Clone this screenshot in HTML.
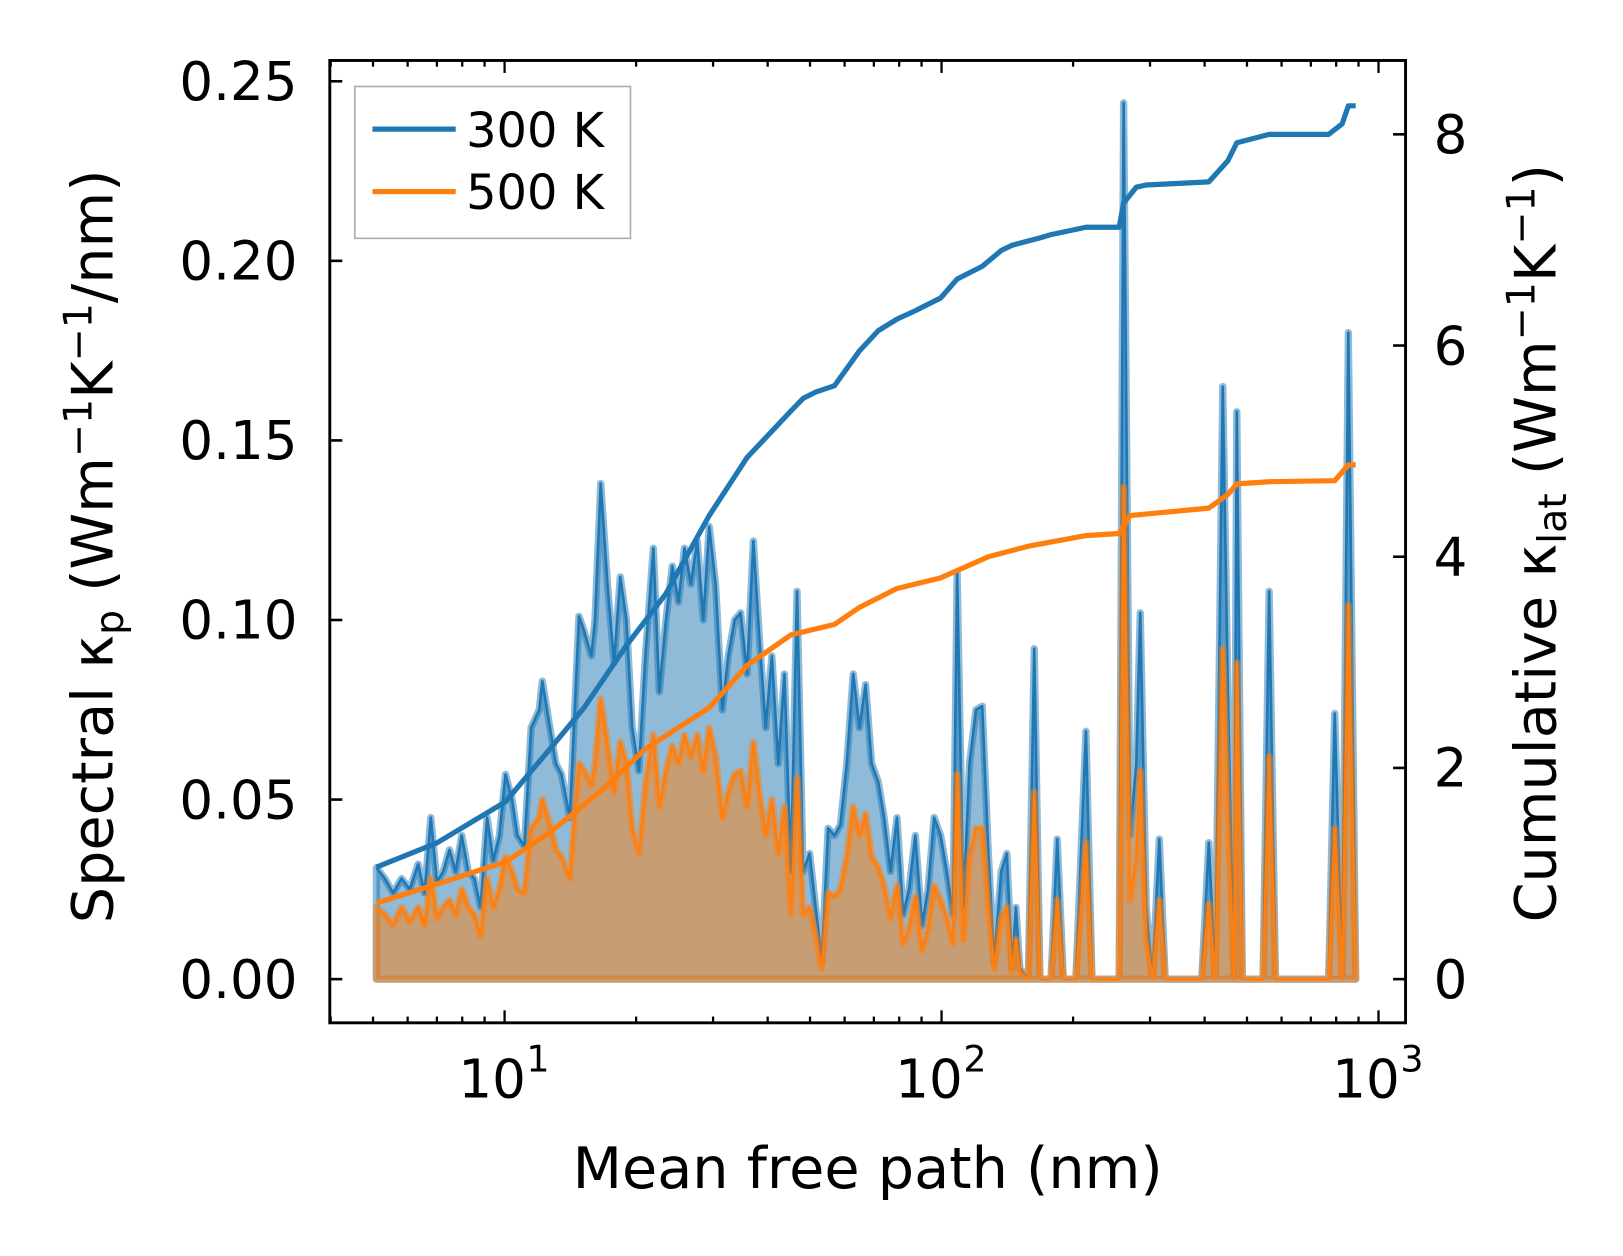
<!DOCTYPE html>
<html><head><meta charset="utf-8"><style>
html,body{margin:0;padding:0;background:#fff;}
svg{display:block;font-family:"DejaVu Sans","Liberation Sans",sans-serif;}
</style></head><body>
<svg id="chart" width="1623" height="1256" viewBox="0 0 1560 1207" xmlns="http://www.w3.org/2000/svg">
<g id="plot"></g>
<g id="axes"></g>
</svg>
<script>
const mfp = [5.09,5.32,5.56,5.81,6.07,6.34,6.56,6.78,7.00,7.24,7.48,7.73,7.98,8.26,8.53,8.81,9.12,9.42,9.73,10.05,10.4,10.7,11.1,11.5,12.0,12.2,12.7,13.1,13.5,14.1,14.8,15.2,15.8,16.1,16.6,17.2,17.8,18.4,19.0,19.6,20.3,21.0,21.9,22.6,23.4,24.2,25.0,25.8,26.7,27.6,28.5,29.4,30.4,31.5,32.5,33.6,34.7,35.9,37.1,38.3,39.6,40.9,42.3,43.7,45.2,46.7,48.2,49.9,51.5,53.2,55.0,56.9,58.7,60.7,62.8,64.9,67.0,69.2,71.6,73.9,76.4,79.1,81.7,84.3,87.1,90.2,93.1,96.2,99.5,102.8,106.2,108.6,112.2,115.9,119.9,123.9,128,132,137,141,145,148,151,158,163,168,178,184,190,203,214,221,247,255,261,270,279,285,294,304,315,325,394,409,423,440,452,467,474,488,544,562,581,769,794,826,853,887];
const spec300 = [0.031,0.028,0.024,0.028,0.025,0.032,0.024,0.045,0.027,0.030,0.036,0.030,0.040,0.030,0.028,0.020,0.045,0.033,0.040,0.057,0.050,0.040,0.037,0.070,0.075,0.083,0.070,0.060,0.057,0.045,0.101,0.097,0.090,0.100,0.138,0.110,0.088,0.112,0.100,0.070,0.058,0.090,0.120,0.080,0.100,0.115,0.105,0.120,0.110,0.122,0.100,0.126,0.110,0.075,0.090,0.100,0.102,0.085,0.122,0.095,0.070,0.090,0.060,0.085,0.030,0.108,0.030,0.035,0.020,0.005,0.042,0.040,0.043,0.060,0.085,0.070,0.082,0.060,0.055,0.045,0.030,0.045,0.018,0.025,0.040,0.015,0.025,0.045,0.040,0.030,0.018,0.113,0.020,0.060,0.075,0.076,0.035,0.005,0.030,0.035,0.003,0.020,0.003,0,0.092,0,0,0.039,0,0,0.069,0,0,0,0.244,0.040,0.060,0.102,0.020,0,0.039,0,0,0.038,0,0.165,0.080,0,0.158,0,0,0.108,0,0,0.074,0,0.180,0];
const spec500 = [0.020,0.018,0.015,0.020,0.016,0.020,0.015,0.028,0.017,0.020,0.022,0.018,0.025,0.020,0.018,0.012,0.028,0.020,0.025,0.034,0.030,0.025,0.024,0.042,0.045,0.050,0.043,0.036,0.034,0.028,0.060,0.058,0.054,0.060,0.078,0.065,0.052,0.066,0.060,0.042,0.035,0.054,0.068,0.048,0.058,0.065,0.060,0.068,0.062,0.068,0.058,0.070,0.062,0.045,0.052,0.057,0.058,0.048,0.066,0.052,0.040,0.050,0.035,0.048,0.018,0.056,0.018,0.020,0.012,0.003,0.024,0.023,0.025,0.034,0.048,0.040,0.046,0.034,0.031,0.026,0.017,0.026,0.010,0.014,0.023,0.008,0.014,0.026,0.022,0.017,0.010,0.057,0.011,0.034,0.042,0.042,0.020,0.003,0.017,0.020,0.002,0.011,0.002,0,0.052,0,0,0.022,0,0,0.038,0,0,0,0.137,0.022,0.034,0.058,0.011,0,0.022,0,0,0.021,0,0.092,0.045,0,0.088,0,0,0.062,0,0,0.042,0,0.104,0];
const cumMfp = [5.09,7.0,10.05,12.7,15.2,19.0,23.4,29.4,35.9,45.2,48.2,51.5,56.9,64.9,71.6,79.1,87.1,99.5,108.6,123.9,137,145,168,178,214,255,261,279,294,409,452,474,562,769,826,853,887];
const cum300 = [1.06,1.29,1.68,2.18,2.57,3.16,3.65,4.39,4.94,5.38,5.50,5.56,5.62,5.95,6.14,6.25,6.33,6.45,6.63,6.75,6.90,6.95,7.02,7.05,7.12,7.12,7.35,7.50,7.52,7.55,7.75,7.92,8.0,8.0,8.1,8.27,8.27];
const cum500Mfp = [5.09,7.0,10.05,12.7,16.6,21.0,29.4,35.9,45.2,56.9,64.9,79.1,99.5,128,158,214,255,270,409,452,474,562,794,853,887];
const cum500 = [0.72,0.90,1.11,1.39,1.78,2.18,2.57,2.97,3.26,3.36,3.52,3.70,3.80,4.0,4.10,4.20,4.22,4.39,4.46,4.59,4.69,4.71,4.72,4.87,4.87];
const leftTicks = [0,0.05,0.10,0.15,0.20,0.25];
const leftLabels = ["0.00","0.05","0.10","0.15","0.20","0.25"];
const rightTicks = [0,2,4,6,8];
const xMajor = [1,2,3];
</script>
<script>
const NS="http://www.w3.org/2000/svg";
const L=317,R=1351,T=58,B=983;
const sx=v=>485+420*(Math.log10(v)-1);
const syL=v=>941-v*(941-78)/0.25;
const syR=v=>941-v*(941-129)/8;
function mk(tag,attrs,parent){const e=document.createElementNS(NS,tag);for(const k in attrs)e.setAttribute(k,attrs[k]);parent.appendChild(e);return e;}
const plot=document.getElementById('plot'),axes=document.getElementById('axes');
const b300='#1f77b4',o500='#ff7f0e';
function area(vals,color,nm){
  let d='M'+sx(mfp[0])+','+syL(0);
  mfp.forEach((m,i)=>{d+=' L'+sx(m).toFixed(1)+','+syL(vals[i]).toFixed(1);});
  d+=' L'+sx(mfp[mfp.length-1])+','+syL(0)+' Z';
  const a=mk('path',{d:d,fill:color,'fill-opacity':0.5,stroke:color,'stroke-opacity':0.5,'stroke-width':7,'stroke-linejoin':'round'},plot);
  
  
  let p=mfp.map((m,i)=>sx(m).toFixed(1)+','+syL(vals[i]).toFixed(1)).join(' ');
  const l=mk('polyline',{points:p,fill:'none',stroke:color,'stroke-width':2.5,'stroke-linejoin':'round'},plot);
  
  
}
area(spec300,b300,'spectral-300k');
area(spec500,o500,'spectral-500k');
function cum(xs,vals,color,nm){
  const n=Math.min(vals.length,xs.length);
  let p=[];for(let i=0;i<n;i++)p.push(sx(xs[i]).toFixed(1)+','+syR(vals[i]).toFixed(1));
  const l=mk('polyline',{points:p.join(' '),fill:'none',stroke:color,'stroke-width':5,'stroke-linejoin':'round'},plot);
  
  
}
cum(cumMfp,cum300,b300,'cumulative-300k-line');
cum(cum500Mfp,cum500,o500,'cumulative-500k-line');
const fr=mk('rect',{x:L,y:T,width:R-L,height:B-T,fill:'none',stroke:'#000','stroke-width':2.8},axes);


const tt={fill:'#000','font-size':51};
leftTicks.forEach((v,i)=>{
  const y=syL(v);
  mk('line',{x1:L,x2:L+12,y1:y,y2:y,stroke:'#000','stroke-width':2.5},axes);
  const t=mk('text',Object.assign({x:L-31,y:y+18,'text-anchor':'end'},tt),axes);
  t.textContent=leftLabels[i];
  
  
});
rightTicks.forEach(v=>{
  const y=syR(v);
  mk('line',{x1:R,x2:R-12,y1:y,y2:y,stroke:'#000','stroke-width':2.5},axes);
  const t=mk('text',Object.assign({x:R+27,y:y+18},tt),axes);
  t.textContent=String(v);
  
  
});
for(let e=0;e<=3;e++){for(let k=1;k<=9;k++){
  const v=k*Math.pow(10,e);const x=sx(v);if(x<L||x>R)continue;
  const len=k===1?12:6;
  mk('line',{x1:x,x2:x,y1:B,y2:B-len,stroke:'#000','stroke-width':2.2},axes);
  mk('line',{x1:x,x2:x,y1:T,y2:T+len,stroke:'#000','stroke-width':2.2},axes);
}}
xMajor.forEach(e=>{
  const x=sx(Math.pow(10,e));
  const t=mk('text',Object.assign({x:x-12,y:B+72,'text-anchor':'middle'},tt),axes);
  t.textContent='10';
  
  
  const s=mk('text',{x:x+21,y:B+47,'font-size':35,fill:'#000'},axes);
  s.textContent=String(e);
  
  
});
</script>
<script>
(function(){
const svg=document.getElementById('chart');
svg.insertAdjacentHTML('beforeend',`
<text x="834" y="1142" text-anchor="middle" font-size="55" fill="#000">Mean free path (nm)</text>
<text transform="translate(108,525) rotate(-90)" text-anchor="middle" font-size="55" fill="#000">Spectral κ<tspan font-size="38" dy="10">p</tspan><tspan dy="-10"> (Wm</tspan><tspan font-size="38" dy="-20">−1</tspan><tspan dy="20">K</tspan><tspan font-size="38" dy="-20">−1</tspan><tspan dy="20">/nm)</tspan></text>
<text transform="translate(1495,522) rotate(-90)" text-anchor="middle" font-size="55" fill="#000">Cumulative κ<tspan font-size="38" dy="10">lat</tspan><tspan dy="-10"> (Wm</tspan><tspan font-size="38" dy="-20">−1</tspan><tspan dy="20">K</tspan><tspan font-size="38" dy="-20">−1</tspan><tspan dy="20">)</tspan></text>
<g>
<rect x="341" y="83" width="265" height="146" fill="#fff" fill-opacity="0.8" stroke="#aaa" stroke-width="1.5"/>
<line x1="358" x2="438" y1="124" y2="124" stroke="#1f77b4" stroke-width="5"/>
<text x="448" y="141" font-size="46" fill="#000">300 K</text>
<line x1="358" x2="438" y1="184" y2="184" stroke="#ff7f0e" stroke-width="5"/>
<text x="448" y="201" font-size="46" fill="#000">500 K</text>
</g>`);
})();
</script>
</body></html>
